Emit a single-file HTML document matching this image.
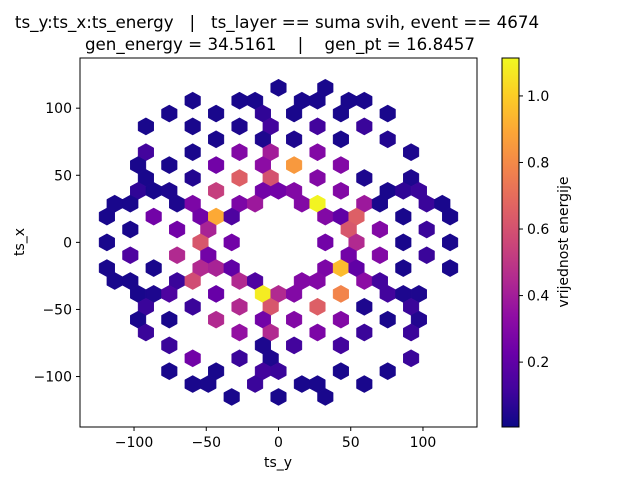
<!DOCTYPE html>
<html><head><meta charset="utf-8"><style>
body{margin:0;background:#fff;}
svg text{font-family:"DejaVu Sans","Liberation Sans",sans-serif;fill:#000;}
</style></head><body>
<svg id="chart" width="640" height="480" viewBox="0 0 640 480" xmlns="http://www.w3.org/2000/svg">
<defs>
<linearGradient id="plasma" x1="0" y1="1" x2="0" y2="0">
<stop offset="0" stop-color="#0d0887"/><stop offset="0.1" stop-color="#41049d"/><stop offset="0.2" stop-color="#6a00a8"/><stop offset="0.3" stop-color="#8f0da4"/><stop offset="0.4" stop-color="#b12a90"/><stop offset="0.5" stop-color="#cc4778"/><stop offset="0.6" stop-color="#e16462"/><stop offset="0.7" stop-color="#f2844b"/><stop offset="0.8" stop-color="#fca636"/><stop offset="0.9" stop-color="#fcce25"/><stop offset="1" stop-color="#f0f921"/>
</linearGradient>
</defs>
<text x="277" y="28" font-size="16.7" text-anchor="middle" xml:space="preserve">ts_y:ts_x:ts_energy   |   ts_layer == suma svih, event == 4674</text>
<text x="280" y="50" font-size="16.7" text-anchor="middle" xml:space="preserve">gen_energy = 34.5161    |    gen_pt = 16.8457</text>
<g id="hexes"></g>
<rect x="80" y="58" width="397" height="369" fill="none" stroke="#000" stroke-width="1"/>
<g id="axes"></g>
<text x="278" y="467" font-size="14" text-anchor="middle">ts_y</text>
<text transform="translate(24,242) rotate(-90)" font-size="14" text-anchor="middle">ts_x</text>
<rect x="502" y="58" width="17" height="369" fill="url(#plasma)" stroke="#000" stroke-width="1"/>
<g id="cbticks"></g>
<text transform="translate(568,242) rotate(-90)" font-size="14" text-anchor="middle">vrijednost energije</text>
</svg>
<script>
const xTicks=[-100,-50,0,50,100];
const yTicks=[-100,-50,0,50,100];
const cTicks=[0.2,0.4,0.6,0.8,1.0];
// hex cells: x (ts_y), y (ts_x), energy value
const hexX=[0,32.4, -59.4,-27,-16.2,16.2,27,48.6,59.4, -75.6,-43.2,-10.8,10.8,43.2,75.6, -91.8,-59.4,-27,-5.4,27,59.4, -43.2,-10.8,10.8,43.2,75.6, -91.8,-59.4,-27,-5.4,27,91.8, -97.2,-75.6,-43.2,-10.8,10.8,43.2, -91.8,-59.4,-27,-5.4,27,59.4,91.8, -97.2,-86.4,-75.6,-43.2,-10.8,0,10.8,43.2,75.6,86.4,97.2, -113.4,-102.6,-70.2,-59.4,-27,-16.2,16.2,27,59.4,70.2,102.6,113.4, -118.8,-86.4,-54,-43.2,-32.4,32.4,43.2,54,86.4,118.8, -102.6,-70.2,-48.6,48.6,70.2,102.6, -118.8,-54,-32.4,32.4,54,86.4,118.8, -102.6,-70.2,-48.6,48.6,70.2,102.6, -118.8,-86.4,-54,-43.2,-32.4,32.4,43.2,54,86.4,118.8, -113.4,-102.6,-70.2,-59.4,-27,-16.2,16.2,27,59.4,70.2, -97.2,-86.4,-75.6,-43.2,-10.8,0,10.8,43.2,75.6,86.4,97.2, -91.8,-59.4,-27,-5.4,27,59.4,91.8, -97.2,-75.6,-43.2,-10.8,10.8,43.2,75.6,97.2, -91.8,-27,-5.4,27,59.4,91.8, -75.6,-10.8,10.8,43.2, -59.4,-27,-5.4,91.8, -75.6,-43.2,-10.8,0,43.2,75.6, -59.4,-48.6,-16.2,16.2,27,59.4, -32.4,0,32.4];
const hexY=[115.2,115.2, 105.6,105.6,105.6,105.6,105.6,105.6,105.6, 96,96,96,96,96,96, 86.4,86.4,86.4,86.4,86.4,86.4, 76.8,76.8,76.8,76.8,76.8, 67.2,67.2,67.2,67.2,67.2,67.2, 57.6,57.6,57.6,57.6,57.6,57.6, 48,48,48,48,48,48,48, 38.4,38.4,38.4,38.4,38.4,38.4,38.4,38.4,38.4,38.4,38.4, 28.8,28.8,28.8,28.8,28.8,28.8,28.8,28.8,28.8,28.8,28.8,28.8, 19.2,19.2,19.2,19.2,19.2,19.2,19.2,19.2,19.2,19.2, 9.6,9.6,9.6,9.6,9.6,9.6, 0,0,0,0,0,0,0, -9.6,-9.6,-9.6,-9.6,-9.6,-9.6, -19.2,-19.2,-19.2,-19.2,-19.2,-19.2,-19.2,-19.2,-19.2,-19.2, -28.8,-28.8,-28.8,-28.8,-28.8,-28.8,-28.8,-28.8,-28.8,-28.8, -38.4,-38.4,-38.4,-38.4,-38.4,-38.4,-38.4,-38.4,-38.4,-38.4,-38.4, -48,-48,-48,-48,-48,-48,-48, -57.6,-57.6,-57.6,-57.6,-57.6,-57.6,-57.6,-57.6, -67.2,-67.2,-67.2,-67.2,-67.2,-67.2, -76.8,-76.8,-76.8,-76.8, -86.4,-86.4,-86.4,-86.4, -96,-96,-96,-96,-96,-96, -105.6,-105.6,-105.6,-105.6,-105.6,-105.6, -115.2,-115.2,-115.2];
const hexV=[.03,.03, .03,.03,.03,.03,.03,.03,.03, .03,.03,.08,.03,.03,.03, .03,.03,.04,.12,.12,.1, .03,.04,.04,.03,.05, .12,.03,.3,.4,.3,.04, .03,.03,.25,.33,.85,.3, .03,.05,.65,.6,.3,.04,.04, .08,.03,.04,.53,.25,.25,.3,.3,.03,.08,.1, .03,.03,.04,.28,.28,.38,.3,1.1,.38,.03,.1,.03, .03,.25,.25,.9,.15,.3,.2,.65,.03,.03, .03,.25,.42,.62,.3,.1, .03,.62,.25,.25,.45,.03,.03, .15,.45,.25,.25,.3,.1, .03,.03,.45,.42,.2,.28,.95,.2,.03,.03, .03,.03,.1,.58,.45,.15,.3,.3,.33,.12, .03,.04,.15,.22,1.08,.45,.3,.78,.12,.04,.04, .1,.1,.45,.62,.65,.04,.1, .03,.03,.45,.25,.3,.3,.03,.05, .1,.35,.45,.28,.1,.1, .1,.04,.12,.12, .25,.1,.04,.1, .03,.03,.12,.1,.03,.03, .03,.03,.1,.03,.03,.03, .03,.03,.03];
const X0=-137.4,X1=137.4,Y0=-137.6,Y1=137.4,VMIN=0.005,VMAX=1.114;
const sx=v=>80+(v-X0)/(X1-X0)*397;
const sy=v=>427-(v-Y0)/(Y1-Y0)*369;
const sc=v=>427-(v-VMIN)/(VMAX-VMIN)*369;
const stops=["#0d0887","#41049d","#6a00a8","#8f0da4","#b12a90","#cc4778","#e16462","#f2844b","#fca636","#fcce25","#f0f921"];
function hex2rgb(h){return [1,3,5].map(k=>parseInt(h.substr(k,2),16));}
function cmap(v){let t=Math.max(0,Math.min(1,(v-VMIN)/(VMAX-VMIN)))*10;let k=Math.min(9,Math.floor(t)),f=t-k;const a=hex2rgb(stops[k]),b=hex2rgb(stops[k+1]);return `rgb(${a.map((c,n)=>Math.round(c+(b[n]-c)*f)).join(',')})`;}
const NS="http://www.w3.org/2000/svg";
const g=document.getElementById('hexes');
const HW=5.4,HV=6.4;
for(let n=0;n<hexV.length;n++){
 const x=hexX[n],y=hexY[n];
 const pts=[[HW,HV/2],[0,HV],[-HW,HV/2],[-HW,-HV/2],[0,-HV],[HW,-HV/2]].map(p=>sx(x+p[0]).toFixed(1)+','+sy(y+p[1]).toFixed(1)).join(' ');
 const p=document.createElementNS(NS,'polygon');
 p.setAttribute('points',pts);p.setAttribute('fill',cmap(hexV[n]));p.setAttribute('stroke',cmap(hexV[n]));p.setAttribute('stroke-width','0.5');
 
 
 g.appendChild(p);
}
const ax=document.getElementById('axes');
function add(tag,attrs,txt){const e=document.createElementNS(NS,tag);for(const k in attrs)e.setAttribute(k,attrs[k]);if(txt!==undefined)e.textContent=txt;ax.appendChild(e);return e;}
const fmt=v=>v<0?'\u2212'+(-v):''+v;
xTicks.forEach(v=>{const x=sx(v);
 const l=add('line',{x1:x,x2:x,y1:427,y2:431,stroke:'#000'});
 
 
 const t=add('text',{x:x,y:447,'font-size':14,'text-anchor':'middle'},fmt(v));
 
 });
yTicks.forEach(v=>{const y=sy(v);
 const l=add('line',{x1:76,x2:80,y1:y,y2:y,stroke:'#000'});
 
 
 const t=add('text',{x:72,y:y+5,'font-size':14,'text-anchor':'end'},fmt(v));
 
 });
cTicks.forEach(v=>{const y=sc(v);
 const l=add('line',{x1:519,x2:523,y1:y,y2:y,stroke:'#000'});
 
 
 const t=add('text',{x:527,y:y+5,'font-size':14},v.toFixed(1));
 
 });
</script>
</body></html>
